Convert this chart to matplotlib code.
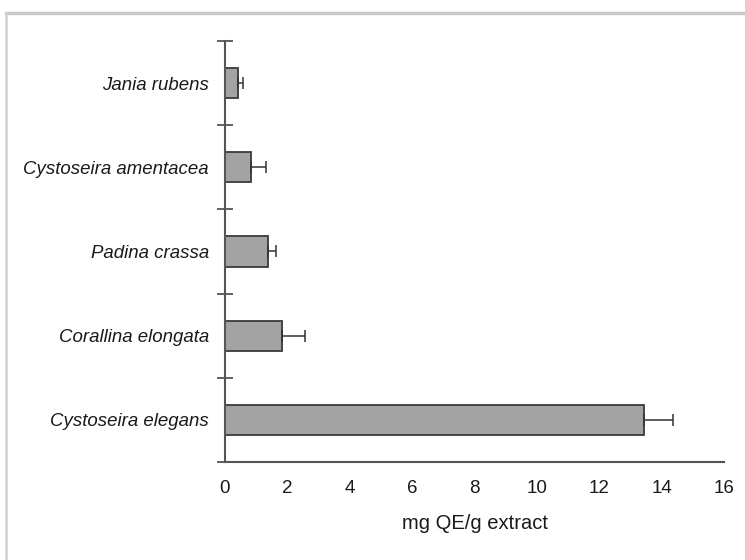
import matplotlib
matplotlib.use("Agg")
import matplotlib.pyplot as plt
from matplotlib.lines import Line2D
import numpy as np

categories = ["Cystoseira elegans", "Corallina elongata", "Padina crassa",
              "Cystoseira amentacea", "Jania rubens"]
values = [13.45, 1.82, 1.37, 0.82, 0.41]
errors = [0.90, 0.74, 0.26, 0.49, 0.16]
xticks = [0, 2, 4, 6, 8, 10, 12, 14, 16]
xlabel = "mg QE/g extract"

plt.rcParams['font.family'] = ['Liberation Sans', 'DejaVu Sans']

fig = plt.figure(figsize=(7.45, 5.6), dpi=100)
ax = fig.add_axes([225/745, 1-462/560, (724-225)/745, (462-41)/560])

pos = np.arange(len(categories))
ax.barh(pos, values, height=0.36, color='#a3a3a3', edgecolor='#3a3a3a',
        linewidth=1.3, zorder=2)
ax.errorbar(values, pos, xerr=[np.zeros(len(errors)), errors], fmt='none',
            ecolor='#333333', elinewidth=1.1, capsize=4.5, capthick=1.1, zorder=3)

ax.set_xlim(0, 16)
ax.set_ylim(-0.5, 4.5)
ax.set_xticks(xticks)
ax.set_xticklabels([str(t) for t in xticks], fontsize=13.5, color='#1a1a1a')
ax.tick_params(axis='x', length=0, pad=13)

ax.set_yticks(pos)
ax.set_yticklabels(categories, fontsize=13.4, style='italic', color='#1a1a1a')
ax.tick_params(axis='y', which='major', length=0, pad=11.5)
ax.set_yticks(np.arange(-0.5, 4.6, 1.0), minor=True)
ax.tick_params(axis='y', which='minor', direction='inout', length=11,
               width=1.3, color='#555555')

for s in ['top', 'right']:
    ax.spines[s].set_visible(False)
for s in ['left', 'bottom']:
    ax.spines[s].set_color('#555555')
    ax.spines[s].set_linewidth(1.5)

ax.set_xlabel(xlabel, fontsize=14.5, color='#1a1a1a', labelpad=12)

# partial figure frame (top and left)
fig.add_artist(Line2D([6/745, 1.0], [1-13/560, 1-13/560], transform=fig.transFigure,
                      color='#c8c8c8', linewidth=2.5))
fig.add_artist(Line2D([6/745, 6/745], [0.0, 1-13/560], transform=fig.transFigure,
                      color='#d0d0d0', linewidth=1.8))

fig.savefig("out.png", dpi=100)
